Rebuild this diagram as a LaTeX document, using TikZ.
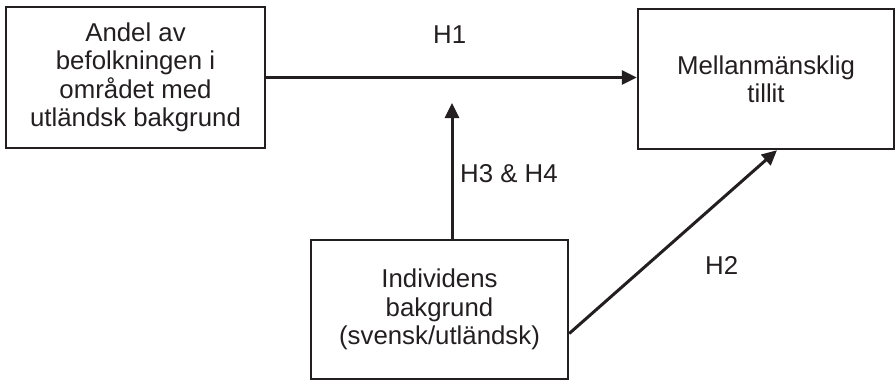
\documentclass[tikz,border=0pt]{standalone}
\usepackage{fontspec}
\setmainfont{Liberation Sans}
\usetikzlibrary{arrows.meta,calc}
\definecolor{ink}{HTML}{231F20}
\begin{document}
\begin{tikzpicture}[x=1pt,y=-1pt,
  box/.style={draw=ink,line width=2.4pt,align=center,inner sep=0pt,text=ink,
    font=\fontsize{25.8}{28.4}\selectfont},
  conn/.style={draw=ink,line width=3pt,-{Triangle[length=15pt,width=14pt]}},
  lbl/.style={text=ink,inner sep=0pt,anchor=base west,font=\fontsize{25.8}{28.4}\selectfont}]
\useasboundingbox (0,0) rectangle (896,381);
\node[box,minimum width=259pt,minimum height=141pt] (L) at (135.5,77.5)
  {Andel av\\befolkningen i\\området med\\utländsk bakgrund};
\node[box,minimum width=256pt,minimum height=140pt] (R) at (766,79)
  {Mellanmänsklig\\tillit};
\node[box,minimum width=257pt,minimum height=139pt] (B) at (439.5,309.5)
  {Individens\\bakgrund\\(svensk/utländsk)};
\coordinate (t34) at (452,103);
\draw[conn] (L.east) -- (R.west |- L.east);
\draw[conn] (B.north -| t34) -- (t34);
\draw[conn] ($(B.south east)!0.33!(B.north east)$) -- ([xshift=11pt]R.south);
\node[lbl] (h1) at (433,43) {H1};
\node[lbl] (h34) at (460,182) {H3 \& H4};
\node[lbl] (h2) at (705,274) {H2};
\end{tikzpicture}
\end{document}
